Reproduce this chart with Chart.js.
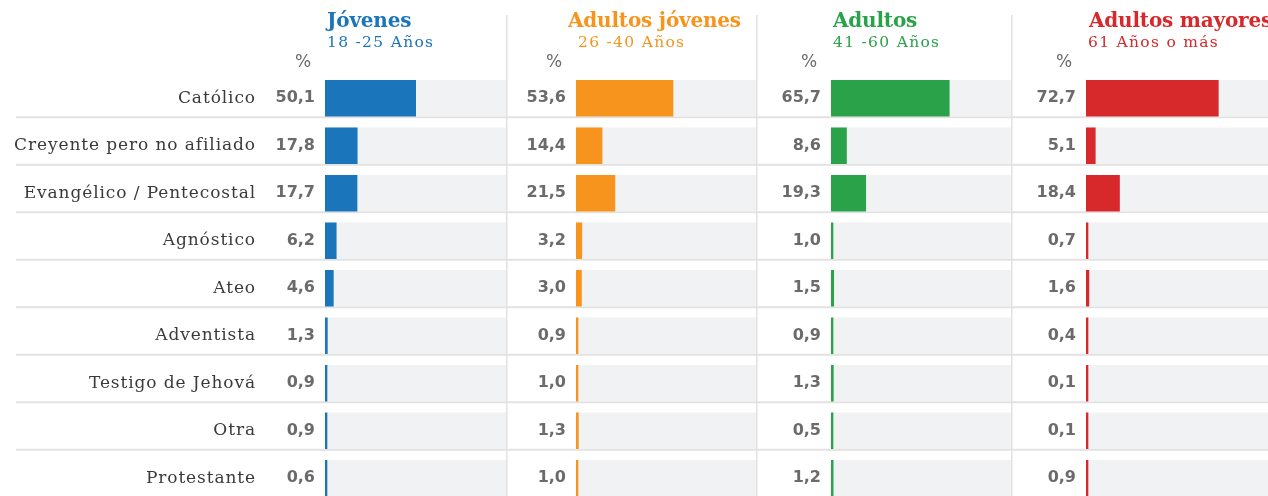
<!DOCTYPE html>
<html>
<head>
<meta charset="utf-8">
<script src="https://cdn.jsdelivr.net/npm/chart.js@4.4.1/dist/chart.umd.min.js"></script>
<style>
    html, body { margin: 0; padding: 0; background: #fff; }
    #wrap { position: relative; width: 1268px; height: 496px; overflow: hidden; }
    #wrap canvas { position: absolute; top: 0; }
</style>
</head>
<body>
<div id="wrap"></div>
<script>
(function () {
    "use strict";

    // datos
    const religiones = ["Católico", "Creyente pero no afiliado", "Evangélico / Pentecostal", "Agnóstico", "Ateo", "Adventista", "Testigo de Jehová", "Otra", "Protestante"];
    const jovenes = [50.1, 17.8, 17.7, 6.2, 4.6, 1.3, 0.9, 0.9, 0.6];
    const adultosJovenes = [53.6, 14.4, 21.5, 3.2, 3.0, 0.9, 1.0, 1.3, 1.0];
    const adultos = [65.7, 8.6, 19.3, 1.0, 1.5, 0.9, 1.3, 0.5, 1.2];
    const adultosMayores = [72.7, 5.1, 18.4, 0.7, 1.6, 0.4, 0.1, 0.1, 0.9];
    const grupos = ["Jóvenes", "Adultos jóvenes", "Adultos", "Adultos mayores"];
    const rangos = ["18 -25 Años", "26 -40 Años", "41 -60 Años", "61 Años o más"];
    const escalaMax = 100;

    const series = [jovenes, adultosJovenes, adultos, adultosMayores];
    const colores = ["#1b75bb", "#f7941d", "#29a24a", "#d7282b"];
    const pista = "#f1f2f4";
    const lineaColor = "#e2e2e2";
    const grisValor = "#6b6b6e";

    // posiciones de cada panel en la página
    const paneles = [
        { left: 0, width: 506, padLeft: 0, tituloDx: 2 },
        { left: 506, width: 251, padLeft: 70, tituloDx: -8 },
        { left: 756, width: 255, padLeft: 75, tituloDx: 2 },
        { left: 1011, width: 257, padLeft: 75, tituloDx: 3 }
    ];

    const fmt = (v) => v.toFixed(1).replace(".", ",");

    const decoracion = {
        id: "decoracion",
        beforeDraw(chart) {
            // espaciado de las etiquetas de categoría
            chart.ctx.letterSpacing = "0.9px";
        },
        beforeDatasetsDraw(chart, args, opts) {
            const { ctx } = chart;
            const meta = chart.getDatasetMeta(0);
            ctx.save();
            ctx.strokeStyle = lineaColor;
            ctx.lineWidth = 2;
            meta.data.forEach((bar) => {
                const y = bar.y + bar.height / 2 + 1;
                ctx.beginPath();
                ctx.moveTo(opts.idx === 0 ? 16 : 0, y);
                ctx.lineTo(chart.width, y);
                ctx.stroke();
            });
            if (opts.idx > 0) {
                ctx.lineWidth = 1.5;
                ctx.beginPath();
                ctx.moveTo(0.75, 15);
                ctx.lineTo(0.75, chart.height);
                ctx.stroke();
            }
            ctx.restore();
        },
        afterDatasetsDraw(chart, args, opts) {
            const { ctx, chartArea } = chart;
            const meta = chart.getDatasetMeta(0);
            const valores = chart.data.datasets[0].data;
            ctx.save();
            ctx.letterSpacing = "0px";
            ctx.fillStyle = grisValor;
            ctx.font = "bold 16px 'DejaVu Sans', sans-serif";
            ctx.textAlign = "right";
            ctx.textBaseline = "middle";
            meta.data.forEach((bar, i) => {
                ctx.fillText(fmt(valores[i]), chartArea.left - 10, bar.y);
            });

            ctx.textAlign = "center";
            ctx.textBaseline = "alphabetic";
            ctx.font = "500 17px 'DejaVu Sans', sans-serif";
            ctx.fillText("%", chartArea.left - 22, 67);

            ctx.textAlign = "left";
            ctx.fillStyle = opts.color;
            ctx.font = "bold 20px 'DejaVu Serif', serif";
            ctx.letterSpacing = "-0.2px";
            ctx.fillText(opts.titulo, chartArea.left + opts.tituloDx, 27);
            ctx.font = "15.5px 'DejaVu Serif', serif";
            ctx.letterSpacing = "1.3px";
            ctx.fillText(opts.rango, chartArea.left + 2, 47);
            ctx.restore();
        }
    };

    const wrap = document.getElementById("wrap");

    paneles.forEach((p, idx) => {
        const canvas = document.createElement("canvas");
        canvas.width = p.width;
        canvas.height = 502;
        canvas.style.left = p.left + "px";
        canvas.style.width = p.width + "px";
        canvas.style.height = "502px";
        wrap.appendChild(canvas);

        const ejeY = {
            display: idx === 0,
            grid: { display: true, color: "transparent", drawOnChartArea: false, drawTicks: true, tickLength: 69 },
            border: { display: false },
            ticks: {
                padding: 0,
                color: "#3a3a3a",
                font: { family: "'DejaVu Serif', serif", size: 17 }
            }
        };
        if (idx === 0) {
            ejeY.afterFit = (scale) => {
                scale.width = 325;
                scale.paddingTop = 0;
                scale.paddingBottom = 0;
            };
        }

        new Chart(canvas, {
            type: "bar",
            data: {
                labels: religiones,
                datasets: [{
                    data: series[idx],
                    backgroundColor: colores[idx],
                    barThickness: 36,
                    minBarLength: 2,
                    grouped: false,
                    order: 1
                }, {
                    data: religiones.map(() => escalaMax),
                    backgroundColor: pista,
                    barThickness: 36,
                    grouped: false,
                    order: 2
                }]
            },
            options: {
                indexAxis: "y",
                responsive: false,
                animation: false,
                events: [],
                layout: { padding: { top: 74.5, left: p.padLeft, right: 0, bottom: 0 } },
                plugins: {
                    legend: { display: false },
                    tooltip: { enabled: false },
                    decoracion: {
                        idx: idx,
                        color: colores[idx],
                        titulo: grupos[idx],
                        rango: rangos[idx],
                        tituloDx: p.tituloDx
                    }
                },
                scales: {
                    x: { display: false, min: 0, max: escalaMax },
                    y: ejeY
                }
            },
            plugins: [decoracion]
        });
    });
}());
</script>
</body>
</html>
